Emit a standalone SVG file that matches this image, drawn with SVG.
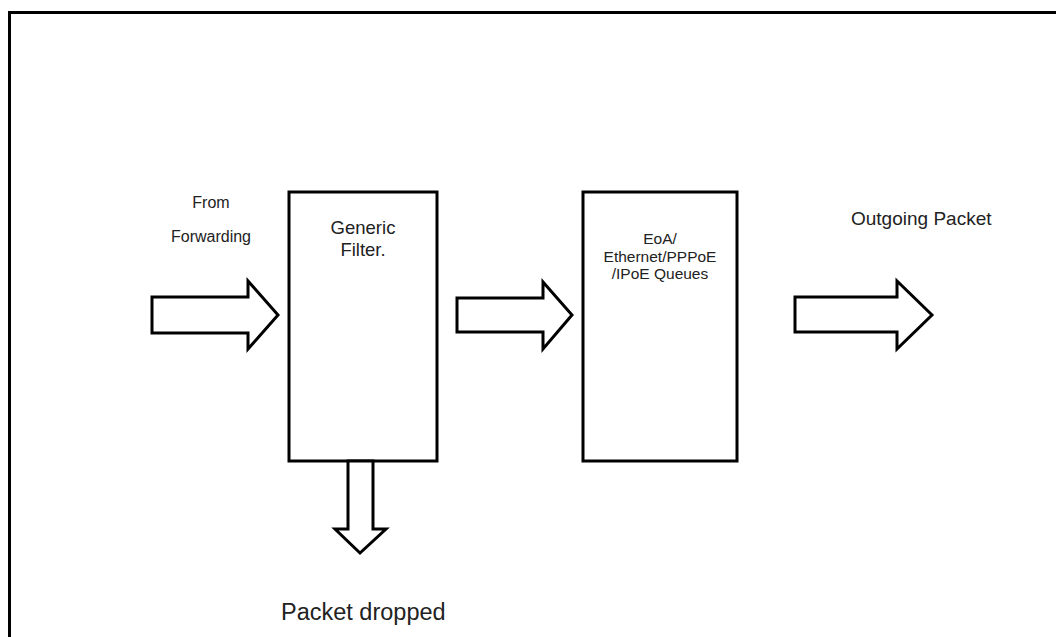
<svg xmlns="http://www.w3.org/2000/svg" width="1056" height="637" viewBox="0 0 1056 637">
<style>
.box{fill:#fff;stroke:#000;stroke-width:3}
.arr{fill:#fff;stroke:#000;stroke-width:3;stroke-linejoin:miter}
.t{font-family:"Liberation Sans",Arial,sans-serif;fill:#222}
</style>
<rect x="0" y="0" width="1056" height="637" fill="#fff"/>
<path d="M9.5 650 V12.5 H1070" fill="none" stroke="#000" stroke-width="3"/>
<g id="filter">
<rect class="box" x="289" y="192" width="148" height="269"/>
<text class="t" x="363" y="234" font-size="18.5" text-anchor="middle">Generic</text>
<text class="t" x="363" y="256" font-size="18.5" text-anchor="middle">Filter.</text>
</g>
<g id="queues">
<rect class="box" x="583" y="192" width="154" height="269"/>
<text class="t" x="660" y="244" font-size="15.5" text-anchor="middle">EoA/</text>
<text class="t" x="660" y="262" font-size="15.5" text-anchor="middle">Ethernet/PPPoE</text>
<text class="t" x="660" y="279" font-size="15.5" text-anchor="middle">/IPoE Queues</text>
</g>
<g id="from">
<text class="t" x="211" y="208" font-size="16" text-anchor="middle">From</text>
<text class="t" x="211" y="242" font-size="16" text-anchor="middle">Forwarding</text>
</g>
<g id="outgoing">
<text class="t" x="851" y="225" font-size="19">Outgoing Packet</text>
</g>
<g id="dropped">
<text class="t" x="281" y="620" font-size="23.5">Packet dropped</text>
</g>
<g id="connectors">
<polygon class="arr" points="152,297 248,297 248,281 278,315 248,349 248,333 152,333"/>
<polygon class="arr" points="457,298 543,298 543,282 572,315 543,349 543,332 457,332"/>
<polygon class="arr" points="795,297 897,297 897,281 932,315 897,349 897,332 795,332"/>
<polygon class="arr" points="348,461 373,461 373,529 386,529 360,553 335,529 348,529"/>
</g>
</svg>
